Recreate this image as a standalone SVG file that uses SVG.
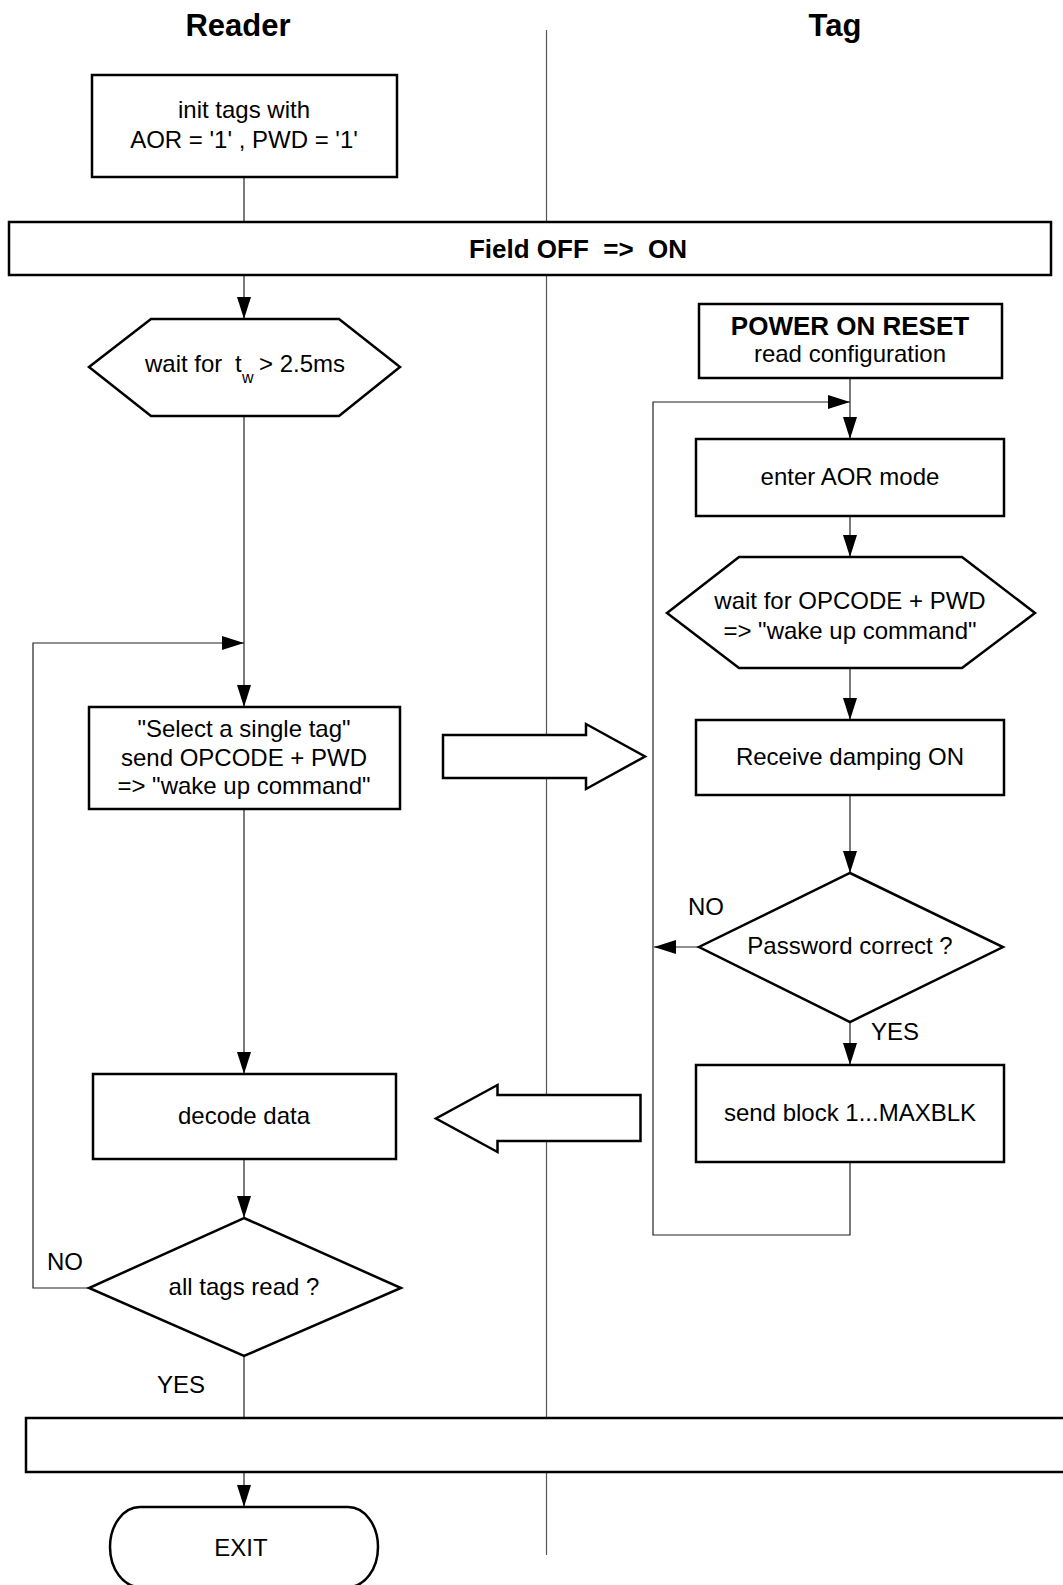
<svg xmlns="http://www.w3.org/2000/svg" width="1063" height="1585" viewBox="0 0 1063 1585">
<style>
text{font-family:"Liberation Sans",Arial,sans-serif;font-size:24px;fill:#000}
.t{font-size:31px;font-weight:bold;text-anchor:middle}
.b{font-weight:bold}
.c{text-anchor:middle}
.box{fill:#fff;stroke:#000;stroke-width:2.5}
.con{fill:none;stroke:#222;stroke-width:1.2}
.lane{fill:none;stroke:#555;stroke-width:1.2}
</style>
<defs>
<marker id="ah" markerUnits="userSpaceOnUse" markerWidth="22" markerHeight="14" refX="22" refY="7" orient="auto">
<path d="M0,0 L22,7 L0,14 Z" fill="#000"/>
</marker>
</defs>
<line class="lane" x1="546.5" y1="30" x2="546.5" y2="1555"/>
<text class="t" x="238" y="36">Reader</text>
<text class="t" x="835" y="36">Tag</text>
<g id="connectors">
<path class="con" d="M244,177 L244,222"/>
<path class="con" d="M244,275 L244,319" marker-end="url(#ah)"/>
<path class="con" d="M244,416 L244,707" marker-end="url(#ah)"/>
<path class="con" d="M89,1288 L33,1288 L33,643 L244,643" marker-end="url(#ah)"/>
<path class="con" d="M244,809 L244,1074" marker-end="url(#ah)"/>
<path class="con" d="M244,1159 L244,1218" marker-end="url(#ah)"/>
<path class="con" d="M244,1356 L244,1418"/>
<path class="con" d="M244,1472 L244,1507" marker-end="url(#ah)"/>
<path class="con" d="M850,378 L850,439" marker-end="url(#ah)"/>
<path class="con" d="M850,1162 L850,1235 L653,1235 L653,402 L850,402" marker-end="url(#ah)"/>
<path class="con" d="M850,516 L850,557" marker-end="url(#ah)"/>
<path class="con" d="M850,668 L850,720" marker-end="url(#ah)"/>
<path class="con" d="M850,795 L850,873" marker-end="url(#ah)"/>
<path class="con" d="M699,947 L654,947" marker-end="url(#ah)"/>
<path class="con" d="M850,1022 L850,1065" marker-end="url(#ah)"/>
</g>
<g id="init">
<rect class="box" x="92" y="75" width="305" height="102"/>
<text class="c" x="244" y="118">init tags with</text>
<text class="c" x="244" y="148">AOR = '1' , PWD = '1'</text>
</g>
<g id="field">
<rect class="box" x="9" y="222" width="1042" height="53"/>
<text class="b c" x="578" y="258" style="font-size:26px;white-space:pre">Field OFF  =&gt;  ON</text>
</g>
<g id="wait">
<polygon class="box" points="89,367 151,319 339,319 400,367 339,416 151,416"/>
<text x="145" y="371.5">wait for</text>
<text x="235" y="371.5">t</text>
<text x="242" y="383" style="font-size:16px">w</text>
<text x="259" y="371.5">&gt; 2.5ms</text>
</g>
<g id="select">
<rect class="box" x="89" y="707" width="311" height="102"/>
<text class="c" x="244" y="737">"Select a single tag"</text>
<text class="c" x="244" y="766">send OPCODE + PWD</text>
<text class="c" x="244" y="794">=&gt; "wake up command"</text>
</g>
<g id="sendArrow">
<polygon class="box" points="443,735 586,735 586,724 645,756.5 586,789 586,778 443,778"/>
</g>
<g id="decode">
<rect class="box" x="93" y="1074" width="303" height="85"/>
<text class="c" x="244" y="1124">decode data</text>
</g>
<g id="recvArrow">
<polygon class="box" points="640.5,1095 497.5,1095 497.5,1085 436,1118.5 497.5,1152 497.5,1141 640.5,1141"/>
</g>
<g id="alltags">
<polygon class="box" points="244,1218 401,1288 244,1356 89,1288"/>
<text class="c" x="244" y="1295">all tags read ?</text>
<text x="47" y="1270">NO</text>
<text x="157" y="1393">YES</text>
</g>
<g id="fieldOff">
<rect class="box" x="26" y="1418" width="1060" height="54"/>
</g>
<g id="exit">
<path class="box" d="M140,1507 L348,1507 A30,40 0 0 1 378,1547 A30,40 0 0 1 348,1587 L140,1587 A30,40 0 0 1 110,1547 A30,40 0 0 1 140,1507 Z"/>
<text class="c" x="241" y="1556">EXIT</text>
</g>
<g id="por">
<rect class="box" x="699" y="304" width="303" height="74"/>
<text class="b c" x="850" y="335" style="font-size:26px">POWER ON RESET</text>
<text class="c" x="850" y="362">read configuration</text>
</g>
<g id="aor">
<rect class="box" x="696" y="439" width="308" height="77"/>
<text class="c" x="850" y="485">enter AOR mode</text>
</g>
<g id="waitop">
<polygon class="box" points="667,613 739,557 962,557 1035,613 962,668 739,668"/>
<text class="c" x="850" y="609">wait for OPCODE + PWD</text>
<text class="c" x="850" y="639">=&gt; "wake up command"</text>
</g>
<g id="damping">
<rect class="box" x="696" y="720" width="308" height="75"/>
<text class="c" x="850" y="765">Receive damping ON</text>
</g>
<g id="password">
<polygon class="box" points="850,873 1003,947 850,1022 699,947"/>
<text class="c" x="850" y="954">Password correct ?</text>
<text x="688" y="915">NO</text>
<text x="871" y="1040">YES</text>
</g>
<g id="sendblock">
<rect class="box" x="696" y="1065" width="308" height="97"/>
<text class="c" x="850" y="1121">send block 1...MAXBLK</text>
</g>
</svg>
